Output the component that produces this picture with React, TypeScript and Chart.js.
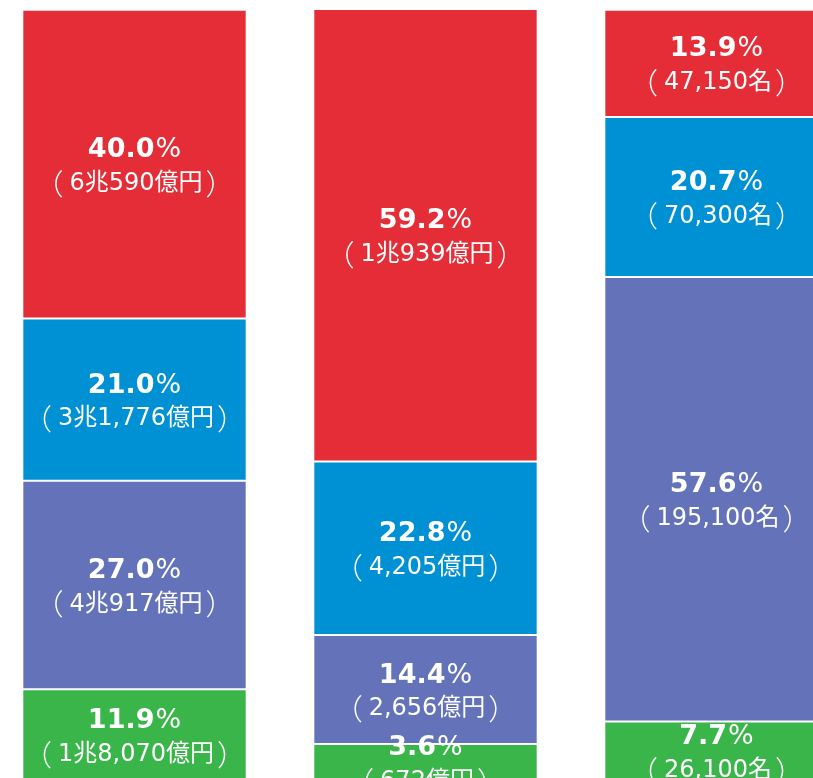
import React, { useEffect, useRef } from "react";
import { Chart, registerables } from "chart.js";

Chart.register(...registerables);

// categories (three stacked columns)
const categories = ["column1", "column2", "column3"];

// segment heights (as drawn, % of column), bottom -> top
const greenValues = [11.9, 4.8, 7.7];
const purpleValues = [27.0, 14.1, 57.6];
const blueValues = [21.0, 22.5, 20.7];
const redValues = [40.0, 58.6, 13.9];

// label texts
const greenPct = ["11.9", "3.6", "7.7"];
const greenSub = ["1兆8,070億円", "672億円", "26,100名"];
const purplePct = ["27.0", "14.4", "57.6"];
const purpleSub = ["4兆917億円", "2,656億円", "195,100名"];
const bluePct = ["21.0", "22.8", "20.7"];
const blueSub = ["3兆1,776億円", "4,205億円", "70,300名"];
const redPct = ["40.0", "59.2", "13.9"];
const redSub = ["6兆590億円", "1兆939億円", "47,150名"];

const COLORS = {
  green: "#39B54A",
  purple: "#6472B9",
  blue: "#0090D4",
  red: "#E42D37",
};

const FONT_FAMILY = '"DejaVu Sans", "Noto Sans CJK JP", sans-serif';
const CJK_FAMILY = '"Noto Sans CJK JP", sans-serif';
const SUB_SIZE = 24;
const PAREN_SIZE = 29;

const labelPlugin = {
  id: "segmentLabels",
  afterDatasetsDraw(chart: any) {
    const ctx = chart.ctx as CanvasRenderingContext2D;
    ctx.save();
    ctx.fillStyle = "#ffffff";
    ctx.textBaseline = "middle";
    ctx.textAlign = "left";
    chart.data.datasets.forEach((ds: any, di: number) => {
      const meta = chart.getDatasetMeta(di);
      meta.data.forEach((bar: any, i: number) => {
        const { x, y, base } = bar.getProps(["x", "y", "base"], true);
        const cy = (y + base) / 2 + 3;
        const pct = ds.pctLabels[i];
        // line 1: bold number + regular %
        const boldFont = `bold 27px ${FONT_FAMILY}`;
        const pctFont = `27px ${FONT_FAMILY}`;
        ctx.font = boldFont;
        const w1 = ctx.measureText(pct).width;
        ctx.font = pctFont;
        const w2 = ctx.measureText("%").width + 1;
        const start = x - (w1 + w2) / 2;
        const y1 = cy - 17;
        ctx.font = boldFont;
        ctx.fillText(pct, start, y1);
        ctx.font = pctFont;
        ctx.fillText("%", start + w1 + 1, y1);
        // line 2: parens spaced away from the text
        const y2 = cy + 16.5;
        const subFont = `${SUB_SIZE}px ${FONT_FAMILY}`;
        const parFont = `300 ${PAREN_SIZE}px ${CJK_FAMILY}`;
        const mid = ds.subLabels[i];
        ctx.font = parFont;
        const pw1 = ctx.measureText("（").width;
        const pw2 = ctx.measureText("）").width;
        ctx.font = subFont;
        const mw = ctx.measureText(mid).width;
        const gapL = 6;
        const gapR = 3;
        const total = pw1 + gapL + mw + gapR + pw2;
        let sx = x - total / 2;
        ctx.font = parFont;
        ctx.fillText("（", sx, y2);
        sx += pw1 + gapL;
        ctx.font = subFont;
        ctx.fillText(mid, sx, y2);
        sx += mw + gapR;
        ctx.font = parFont;
        ctx.fillText("）", sx, y2);
      });
    });
    ctx.restore();
  },
};

export default function App() {
  const canvasRef = useRef<HTMLCanvasElement | null>(null);

  useEffect(() => {
    const canvas = canvasRef.current;
    if (!canvas) return;
    const mk = (label: string, data: number[], color: string, pct: string[], sub: string[]) => ({
      label,
      data,
      backgroundColor: color,
      borderColor: "rgba(255,255,255,0.22)",
      borderWidth: 1,
      borderSkipped: false,
      categoryPercentage: 1,
      barPercentage: 0.771,
      pctLabels: pct,
      subLabels: sub,
    });
    const chart = new Chart(canvas, {
      type: "bar",
      data: {
        labels: categories,
        datasets: [
          mk("green", greenValues, COLORS.green, greenPct, greenSub),
          mk("purple", purpleValues, COLORS.purple, purplePct, purpleSub),
          mk("blue", blueValues, COLORS.blue, bluePct, blueSub),
          mk("red", redValues, COLORS.red, redPct, redSub),
        ] as any,
      },
      options: {
        animation: false,
        responsive: false,
        devicePixelRatio: 1,
        layout: { padding: 0 },
        plugins: {
          legend: { display: false },
          tooltip: { enabled: false },
        },
        scales: {
          x: { stacked: true, display: false, offset: true },
          y: { stacked: true, display: false, min: 0, max: 100 },
        },
      },
      plugins: [labelPlugin],
    });
    return () => chart.destroy();
  }, []);

  return (
    <div
      style={{
        position: "fixed",
        left: 0,
        top: 0,
        width: 813,
        height: 778,
        overflow: "hidden",
        background: "#ffffff",
      }}
    >
      <canvas
        ref={canvasRef}
        width={873}
        height={772}
        style={{ position: "absolute", left: -11, top: 9, width: 873, height: 772 }}
      />
    </div>
  );
}
